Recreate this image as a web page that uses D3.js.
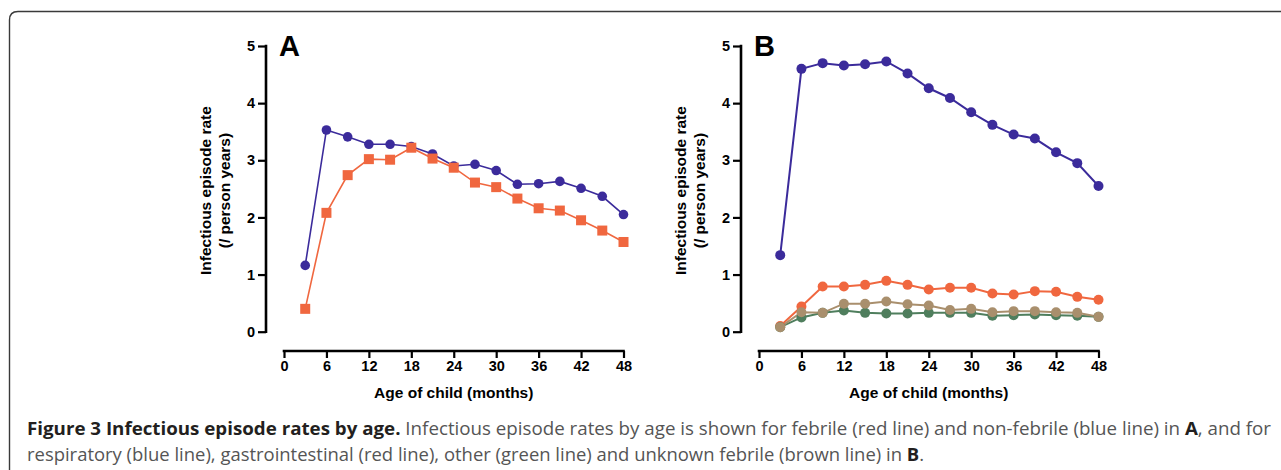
<!DOCTYPE html>
<html><head><meta charset="utf-8">
<script src="https://cdn.jsdelivr.net/npm/d3@7"></script>
<style>body{margin:0;background:#fff}svg{display:block}</style>
</head><body>
<svg id="c" width="1281" height="470"></svg>
<script>
const ages = [3,6,9,12,15,18,21,24,27,30,33,36,39,42,45,48];
const xTicks = [0,6,12,18,24,30,36,42,48];
const yTicks = [0,1,2,3,4,5];
// Panel A
const nonFebrile = [1.16,3.53,3.41,3.28,3.28,3.24,3.11,2.90,2.93,2.82,2.58,2.59,2.63,2.51,2.37,2.05];
const febrile    = [0.40,2.08,2.74,3.02,3.01,3.22,3.03,2.87,2.61,2.53,2.33,2.16,2.12,1.95,1.77,1.57];
// Panel B
const respiratory      = [1.34,4.60,4.70,4.66,4.68,4.73,4.52,4.26,4.09,3.84,3.62,3.45,3.38,3.14,2.95,2.55];
const gastrointestinal = [0.10,0.44,0.79,0.79,0.82,0.89,0.82,0.74,0.77,0.77,0.67,0.65,0.71,0.70,0.61,0.56];
const other            = [0.08,0.25,0.33,0.37,0.33,0.32,0.32,0.33,0.33,0.33,0.28,0.29,0.30,0.29,0.28,0.26];
const unknownFebrile   = [0.08,0.34,0.33,0.49,0.49,0.53,0.48,0.46,0.38,0.40,0.34,0.36,0.36,0.34,0.33,0.26];

const BLUE="#3b2b9b", RED="#f0673f", GREEN="#4f7e5d", BROWN="#a98f6d";
const svg = d3.select("#c");

// frame
svg.append("path").attr("d","M9.5,480 L9.5,20 Q9.5,11.5 18,11.5 L1300,11.5")
  .attr("fill","none").attr("stroke","#3a3a3a").attr("stroke-width",1.4);

function panel(ox, letter, series){
  const x = d3.scaleLinear().domain([0,48]).range([ox+18,ox+357.5]);
  const y = d3.scaleLinear().domain([0,5]).range([331.7,46]);
  const g = svg.append("g");
  const yAx = g.append("g").attr("transform",`translate(${ox},0)`)
    .call(d3.axisLeft(y).tickValues(yTicks).tickFormat(d3.format("d")).tickSize(8).tickSizeOuter(0).tickPadding(3));
  const xAx = g.append("g").attr("transform",`translate(0,351)`)
    .call(d3.axisBottom(x).tickValues(xTicks).tickFormat(d3.format("d")).tickSize(7).tickSizeOuter(0).tickPadding(3));
  [yAx,xAx].forEach(a=>{
    a.select(".domain").attr("stroke","#000").attr("stroke-width",2.6);
    a.selectAll(".tick line").attr("stroke","#000").attr("stroke-width",2.2);
    a.selectAll("text").attr("font-family","Liberation Sans, Arial, sans-serif")
      .attr("font-weight","bold").attr("font-size",14.5).attr("fill","#000");
  });
  xAx.select(".domain").attr("d",`M${x(0)-1.3},0H${x(48)+1.3}`);
  yAx.select(".domain").attr("d",`M0,${y(0)+1.3}V${y(5)-1.3}`);
  g.append("text").attr("x",(x(0)+x(48))/2).attr("y",398).attr("text-anchor","middle")
    .attr("font-family","Liberation Sans, Arial, sans-serif").attr("font-weight","bold").attr("font-size",15.5)
    .text("Age of child (months)");
  const yt = g.append("text").attr("transform",`translate(${ox-55},${y(2.47)}) rotate(-90)`)
    .attr("text-anchor","middle").attr("font-family","Liberation Sans, Arial, sans-serif")
    .attr("font-weight","bold").attr("font-size",15.5);
  yt.append("tspan").attr("x",0).attr("dy",0).text("Infectious episode rate");
  yt.append("tspan").attr("x",0).attr("dy",19).text("(/ person years)");
  g.append("text").attr("x",ox+13).attr("y",56).attr("font-family","Liberation Sans, Arial, sans-serif")
    .attr("font-weight","bold").attr("font-size",29).text(letter);
  const line = d3.line().x((d,i)=>x(ages[i])).y(d=>y(d));
  series.forEach(s=>{
    g.append("path").datum(s.values).attr("d",line).attr("fill","none")
      .attr("stroke",s.color).attr("stroke-width",s.lw);
  });
  series.forEach(s=>{
    if(s.shape==="square"){
      g.selectAll(null).data(s.values).enter().append("rect")
        .attr("x",(d,i)=>x(ages[i])-5).attr("y",d=>y(d)-5).attr("width",10).attr("height",10).attr("fill",s.color);
    } else {
      g.selectAll(null).data(s.values).enter().append("circle")
        .attr("cx",(d,i)=>x(ages[i])).attr("cy",d=>y(d)).attr("r",s.r).attr("fill",s.color);
    }
  });
}
panel(266,"A",[
  {values:nonFebrile,color:BLUE,shape:"circle",r:4.8,lw:1.6},
  {values:febrile,color:RED,shape:"square",lw:1.6}
]);
panel(741,"B",[
  {values:respiratory,color:BLUE,shape:"circle",r:5,lw:2},
  {values:gastrointestinal,color:RED,shape:"circle",r:5,lw:2},
  {values:other,color:GREEN,shape:"circle",r:5,lw:2},
  {values:unknownFebrile,color:BROWN,shape:"circle",r:5,lw:2}
]);

// caption
const cap1 = svg.append("text").attr("x",27).attr("y",435).attr("font-family","Open Sans, sans-serif")
  .attr("font-size",17.5).attr("fill","#555").attr("textLength",1244).attr("lengthAdjust","spacingAndGlyphs");
cap1.append("tspan").attr("font-weight","bold").attr("fill","#231f20").text("Figure 3 Infectious episode rates by age.");
cap1.append("tspan").text(" Infectious episode rates by age is shown for febrile (red line) and non-febrile (blue line) in ");
cap1.append("tspan").attr("font-weight","bold").attr("fill","#231f20").text("A");
cap1.append("tspan").text(", and for");
const cap2 = svg.append("text").attr("x",27).attr("y",461).attr("font-family","Open Sans, sans-serif")
  .attr("font-size",17.5).attr("fill","#555").attr("textLength",897).attr("lengthAdjust","spacingAndGlyphs");
cap2.append("tspan").text("respiratory (blue line), gastrointestinal (red line), other (green line) and unknown febrile (brown line) in ");
cap2.append("tspan").attr("font-weight","bold").attr("fill","#231f20").text("B");
cap2.append("tspan").text(".");
</script>
</body></html>
